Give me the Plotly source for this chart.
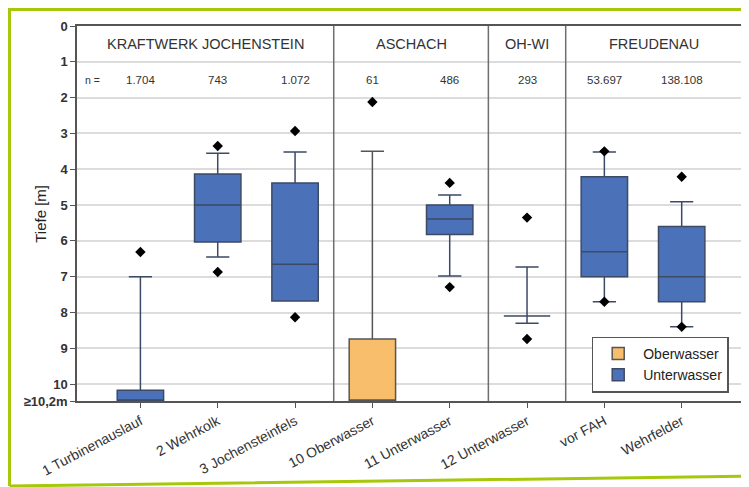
import plotly.graph_objects as go

# ---------------- data ----------------
categories = ["1 Turbinenauslauf", "2 Wehrkolk", "3 Jochensteinfels", "10 Oberwasser",
              "11 Unterwasser", "12 Unterwasser", "vor FAH", "Wehrfelder"]
n_labels = ["1.704", "743", "1.072", "61", "486", "293", "53.697", "138.108"]
regions = ["KRAFTWERK JOCHENSTEIN", "ASCHACH", "OH-WI", "FREUDENAU"]
region_spans = [(-0.82, 2.5), (2.5, 4.5), (4.5, 5.5), (5.5, 7.78)]
group = ["U", "U", "U", "O", "U", "U", "U", "U"]

BOTTOM = 10.47   # depth shown as ">=10,2m" (values deeper are clamped here)

upper_whisker = [7.0, 3.55, 3.52, 3.5, 4.72, 6.73, 3.52, 4.91]
q1 =            [10.17, 4.13, 4.38, 8.74, 5.0, 8.1, 4.21, 5.6]
median =        [BOTTOM, 5.0, 6.65, BOTTOM, 5.39, 8.1, 6.3, 7.0]
q3 =            [BOTTOM, 6.03, 7.68, BOTTOM, 5.82, 8.1, 7.0, 7.7]
lower_whisker = [BOTTOM, 6.45, 7.68, BOTTOM, 6.98, 8.3, 7.7, 8.4]

outliers = [[6.31], [3.35, 6.87], [2.93, 8.13], [2.12], [4.38, 7.29],
            [5.35, 8.74], [3.5, 7.7], [4.21, 8.4]]

y_ticks = [0, 1, 2, 3, 4, 5, 6, 7, 8, 9, 10, BOTTOM]
y_ticktext = ["0", "1", "2", "3", "4", "5", "6", "7", "8", "9", "10", "≥10,2m"]

BLUE = "#4B72B8"
ORANGE = "#F9BE6C"
FONT = "Liberation Sans"

fig = go.Figure()

for gname, gcode, color, lcolor in [("Oberwasser", "O", ORANGE, "#555555"),
                                    ("Unterwasser", "U", BLUE, "#3d4a66")]:
    idx = [i for i, g in enumerate(group) if g == gcode]
    fig.add_trace(go.Box(
        name=gname,
        x=idx,
        q1=[q1[i] for i in idx],
        median=[median[i] for i in idx],
        q3=[q3[i] for i in idx],
        lowerfence=[upper_whisker[i] for i in idx],
        upperfence=[lower_whisker[i] for i in idx],
        width=0.6,
        whiskerwidth=0.5,
        fillcolor=color,
        line=dict(color=lcolor, width=1.5),
        boxpoints=False,
        hoverinfo="skip",
    ))

ox, oy = [], []
for i, vals in enumerate(outliers):
    for v in vals:
        ox.append(i)
        oy.append(v)
fig.add_trace(go.Scatter(x=ox, y=oy, mode="markers", showlegend=False,
                         marker=dict(symbol="diamond", size=8, color="black")))

# separators between regions
for x0, x1 in region_spans[1:]:
    fig.add_shape(type="line", xref="x", yref="y", x0=x0, x1=x0, y0=0, y1=BOTTOM,
                  line=dict(color="#6e6e6e", width=1.5), layer="above")

# region titles and n labels
for name, (a, b) in zip(regions, region_spans):
    fig.add_annotation(x=(a + b) / 2, y=0.5, xref="x", yref="y", text=name,
                       showarrow=False, font=dict(family=FONT, size=14.5, color="#333"))
fig.add_annotation(x=-0.62, y=1.5, xref="x", yref="y", text="n =", showarrow=False,
                   font=dict(family=FONT, size=10.5, color="#333"))
for i, t in enumerate(n_labels):
    fig.add_annotation(x=i, y=1.5, xref="x", yref="y", text=t, showarrow=False,
                       font=dict(family=FONT, size=11.5, color="#333"))

# y-axis title
fig.add_annotation(x=-0.071, y=0.5, xref="paper", yref="paper", text="Tiefe [m]",
                   textangle=-90, showarrow=False,
                   font=dict(family=FONT, size=15, color="#222"))

# green frame around the picture
fig.add_shape(type="path", xref="paper", yref="paper",
              path="M -0.1015,-0.2267 L -0.1015,1.044 L 1.2,1.044 M -0.1015,-0.2267 L 1.2,-0.196",
              line=dict(color="#A6C80A", width=3))

# page body has ~8px margin: plot area targeted at x 77..742, y 26..401 on screen
fig.update_layout(
    width=749, height=487,
    margin=dict(l=69, r=15, t=18, b=94),
    paper_bgcolor="white", plot_bgcolor="white",
    font=dict(family=FONT, color="#333"),
    showlegend=True,
    legend=dict(x=0.774, y=0.172, xanchor="left", yanchor="top",
                bordercolor="#555", borderwidth=1.5, bgcolor="white",
                font=dict(family=FONT, size=14, color="#222"),
                tracegroupgap=0, itemwidth=40),
    xaxis=dict(range=[-0.82, 7.78], tickmode="array", tickvals=list(range(len(categories))),
               ticktext=categories, tickangle=-28, showgrid=False, zeroline=False,
               showline=True, linecolor="#555", linewidth=1.5, mirror=True,
               ticks="outside", ticklen=5, tickcolor="#555",
               tickfont=dict(family=FONT, size=14, color="#333")),
    yaxis=dict(range=[BOTTOM, 0], tickmode="array", tickvals=y_ticks, ticktext=y_ticktext,
               showgrid=True, gridcolor="#dcdcdc", gridwidth=1.5, zeroline=False,
               showline=True, linecolor="#555", linewidth=1.5, mirror=True,
               ticks="outside", ticklen=5, tickcolor="#555",
               tickfont=dict(family=FONT, size=13, color="#333", weight="bold")),
)

fig.write_html("out.html")
